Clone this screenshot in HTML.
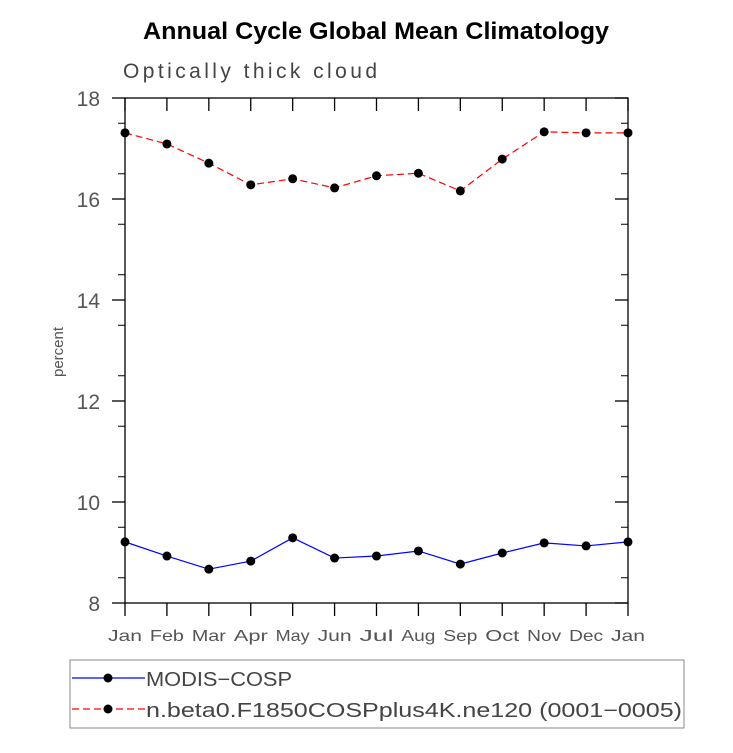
<!DOCTYPE html>
<html><head><meta charset="utf-8"><style>
body{margin:0;background:#fff;width:733px;height:748px;overflow:hidden}
svg{font-family:"Liberation Sans",sans-serif}
</style></head><body>
<svg id="c" width="733" height="748">
<text x="376" y="39" text-anchor="middle" font-weight="bold" font-size="24" textLength="466" lengthAdjust="spacingAndGlyphs" fill="#000">Annual Cycle Global Mean Climatology</text>
<text x="123" y="78" font-size="21" fill="#444" textLength="254" lengthAdjust="spacing">Optically thick cloud</text>
<text transform="translate(63,352) rotate(-90)" text-anchor="middle" font-size="15" fill="#555">percent</text>
<rect x="125" y="98" width="503" height="505" fill="none" stroke="#000" stroke-width="1.3"/>
<g id="ax"></g><g id="ser"></g>
<rect x="70" y="660" width="614" height="68" fill="none" stroke="#888" stroke-width="1"/>
<g>
<line x1="72" y1="678" x2="145" y2="678" stroke="#00f" stroke-width="1.2"/><circle cx="108" cy="678" r="4.5"/>
<text x="146" y="686" font-size="20" fill="#444" textLength="146" lengthAdjust="spacingAndGlyphs">MODIS−COSP</text></g>
<g>
<line x1="72" y1="709" x2="145" y2="709" stroke="#f00" stroke-width="1.2" stroke-dasharray="7,4"/><circle cx="108" cy="709" r="4.5"/>
<text x="146" y="717" font-size="20" fill="#444" textLength="536" lengthAdjust="spacingAndGlyphs">n.beta0.F1850COSPplus4K.ne120 (0001−0005)</text></g>
</svg>
<script>
const months=["Jan","Feb","Mar","Apr","May","Jun","Jul","Aug","Sep","Oct","Nov","Dec","Jan"];
const yTicks=[8,10,12,14,16,18];
const modis=[9.21,8.93,8.67,8.83,9.29,8.89,8.93,9.03,8.77,8.99,9.19,9.13,9.21];
const model=[17.31,17.09,16.71,16.28,16.40,16.22,16.46,16.51,16.16,16.79,17.33,17.31,17.31];
const NS="http://www.w3.org/2000/svg";
const X=i=>125+i*503/12, Y=v=>603-(v-8)*50.5;
function mk(t,a,p){const e=document.createElementNS(NS,t);for(const k in a)e.setAttribute(k,a[k]);p.appendChild(e);return e;}
const ax=document.getElementById('ax'),ser=document.getElementById('ser');
yTicks.forEach(v=>{const y=Y(v);
 mk('line',{x1:112,y1:y,x2:125,y2:y,stroke:'#000','stroke-width':1.3},ax);
 mk('line',{x1:615,y1:y,x2:628,y2:y,stroke:'#000','stroke-width':1.3},ax);
 const t=mk('text',{x:100,y:y+8,'text-anchor':'end','font-size':21,fill:'#555'},ax);t.textContent=v;
 
 
});
for(let v=8.5;v<18;v+=1){const y=Y(v);
 mk('line',{x1:118,y1:y,x2:125,y2:y,stroke:'#000','stroke-width':1},ax);
 mk('line',{x1:621,y1:y,x2:628,y2:y,stroke:'#000','stroke-width':1},ax);}
months.forEach((m,i)=>{const x=X(i);
 mk('line',{x1:x,y1:603,x2:x,y2:616,stroke:'#000','stroke-width':1.3},ax);
 mk('line',{x1:x,y1:98,x2:x,y2:111,stroke:'#000','stroke-width':1.3},ax);
 const t=mk('text',{x:x,y:641,'text-anchor':'middle','font-size':16,fill:'#555',textLength:34,lengthAdjust:'spacingAndGlyphs'},ax);t.textContent=m;
 
 
});
function series(vals,col,dash,name){
 const g=mk('g',{},ser);
 
 
 mk('polyline',{points:vals.map((v,i)=>X(i)+','+Y(v)).join(' '),fill:'none',stroke:col,'stroke-width':1.2,'stroke-dasharray':dash},g);
 vals.forEach((v,i)=>{const c=mk('circle',{cx:X(i),cy:Y(v),r:4.5,fill:'#000'},g);
  
  });
}
series(modis,'#00f','none','modis-series');
series(model,'#f00','7,4','model-series');
</script>
</body></html>
